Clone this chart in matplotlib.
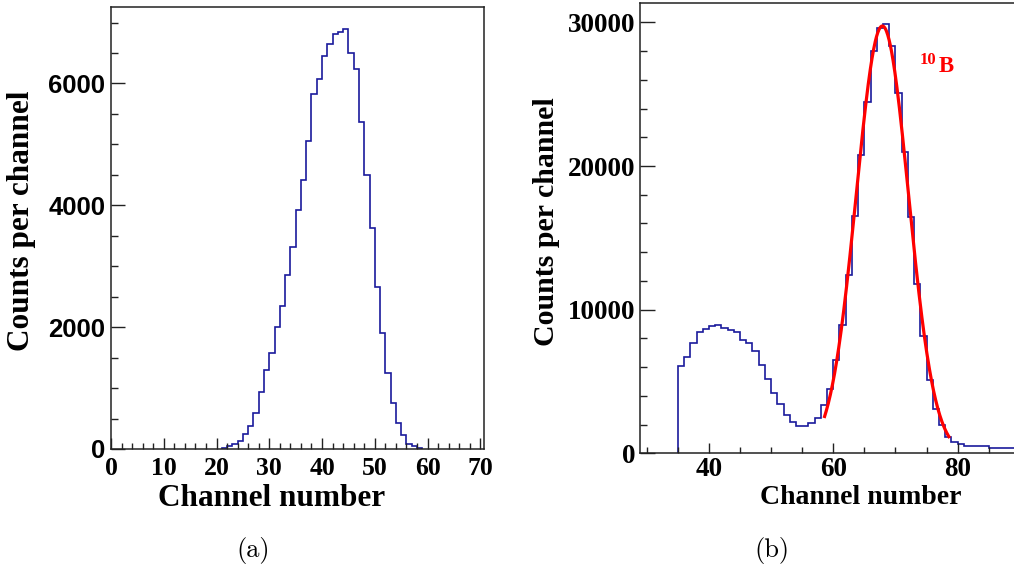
import numpy as np
import matplotlib
matplotlib.use("Agg")
import matplotlib.pyplot as plt
from matplotlib.ticker import MultipleLocator

# (a) channel spectrum, one count per 1-channel bin, first bin = channel 21
left_first_channel = 21
left_counts = [10, 50, 87, 130, 245, 377, 596, 929, 1290, 1579,
               1995, 2355, 2852, 3322, 3923, 4410, 5049, 5825, 6077, 6448,
               6650, 6809, 6852, 6891, 6503, 6230, 5361, 4503, 3634, 2661,
               1907, 1240, 749, 421, 224, 87, 55, 16]

# (b) channel spectrum, first bin = channel 35
right_first_channel = 35
right_counts = [6050, 6720, 7700, 8440, 8650, 8840, 8950, 8740, 8600, 8440,
                7900, 7700, 7090, 6140, 5190, 4230, 3440, 2650, 2190, 1910,
                1910, 2090, 2490, 3350, 4510, 6490, 8930, 12440, 16490, 20740,
                24470, 27980, 29580, 29880, 28330, 25050, 21000, 16440, 11810, 8190,
                5070, 3070, 2000, 1160, 800, 660, 510, 505, 500, 495,
                390, 390, 390, 390, 390]

# gaussian fit of the 10B peak (amplitude, mean, sigma, range)
fit_amp = 29750
fit_mean = 67.9
fit_sigma = 4.2
fit_lo, fit_hi = 58.6, 78.6
peak_label = ("10", "B")

hist_color = "#1a1a9c"
fit_color = "#ff0000"
serif = "Liberation Serif"
sans = "Liberation Sans"

W, H = 1014, 567
fig = plt.figure(figsize=(W / 100, H / 100), dpi=100)


def px_axes(x0, y0, x1, y1):
    return fig.add_axes([x0 / W, 1 - y1 / H, (x1 - x0) / W, (y1 - y0) / H])


def style_axes(ax, ymaj_len, xmaj_len):
    for s in ax.spines.values():
        s.set_linewidth(1.1)
        s.set_color("#222222")
    ax.tick_params(which="both", direction="in", top=False, right=False,
                   color="#222222", width=1.0)
    ax.tick_params(axis="y", which="major", length=ymaj_len)
    ax.tick_params(axis="y", which="minor", length=ymaj_len / 2)
    ax.tick_params(axis="x", which="major", length=xmaj_len)
    ax.tick_params(axis="x", which="minor", length=xmaj_len * 0.55)


# ---- panel (a)
ax1 = px_axes(111, 7.3, 483.5, 449)
edges1 = np.arange(left_first_channel, left_first_channel + len(left_counts) + 1)
ax1.stairs(left_counts, edges1, color=hist_color, lw=1.2)
ax1.set_xlim(0, 70.6)
ax1.set_ylim(0, 7250)
ax1.xaxis.set_major_locator(MultipleLocator(10))
ax1.xaxis.set_minor_locator(MultipleLocator(2))
ax1.yaxis.set_major_locator(MultipleLocator(2000))
ax1.yaxis.set_minor_locator(MultipleLocator(500))
style_axes(ax1, 10, 8)
ax1.tick_params(axis="x", pad=6)
ax1.tick_params(axis="y", pad=4)
for t in ax1.get_xticklabels():
    t.set_fontfamily(serif); t.set_fontweight("bold"); t.set_fontsize(18.5)
for t in ax1.get_yticklabels():
    t.set_fontfamily(sans); t.set_fontweight("bold"); t.set_fontsize(18.5)

# ---- panel (b)
ax2 = px_axes(640, 3, 1016, 453.3)
edges2 = np.arange(right_first_channel, right_first_channel + len(right_counts) + 1)
ax2.stairs(right_counts, edges2, color=hist_color, lw=1.2, baseline=0)
xf = np.linspace(fit_lo, fit_hi, 300)
ax2.plot(xf, fit_amp * np.exp(-0.5 * ((xf - fit_mean) / fit_sigma) ** 2),
         color=fit_color, lw=2.3)
ax2.set_xlim(28.9, 89.4)
ax2.set_ylim(0, 31350)
ax2.xaxis.set_major_locator(MultipleLocator(20))
ax2.xaxis.set_minor_locator(MultipleLocator(5))
ax2.yaxis.set_major_locator(MultipleLocator(10000))
ax2.yaxis.set_minor_locator(MultipleLocator(2000))
style_axes(ax2, 10.5, 7.5)
ax2.tick_params(axis="x", pad=3)
ax2.tick_params(axis="y", pad=3.5)
for t in ax2.get_xticklabels() + ax2.get_yticklabels():
    t.set_fontfamily(serif); t.set_fontweight("bold"); t.set_fontsize(19.5)

ax2.text(73.9, 27100, peak_label[0], color=fit_color, fontfamily=serif,
         fontweight="bold", fontsize=12, ha="left", va="baseline")
ax2.text(76.9, 26540, peak_label[1], color=fit_color, fontfamily=serif,
         fontweight="bold", fontsize=16.5, ha="left", va="baseline")

# ---- axis titles and captions
lab = dict(fontfamily=serif, fontweight="bold", ha="center", va="center")
fig.text(22 / W, 1 - 221 / H, "Counts per channel", rotation=90, fontsize=22.5, **lab)
fig.text(272 / W, 1 - 498 / H, "Channel number", fontsize=22.5, **lab)
fig.text(546 / W, 1 - 222 / H, "Counts per channel", rotation=90, fontsize=21.5, **lab)
fig.text(861 / W, 1 - 497 / H, "Channel number", fontsize=20, **lab)

fig.text(253 / W, 1 - 551 / H, "(a)", fontfamily="cmr10", fontsize=19,
         ha="center", va="center")
fig.text(772 / W, 1 - 551 / H, "(b)", fontfamily="cmr10", fontsize=19,
         ha="center", va="center")

fig.savefig("out.png", dpi=100)
